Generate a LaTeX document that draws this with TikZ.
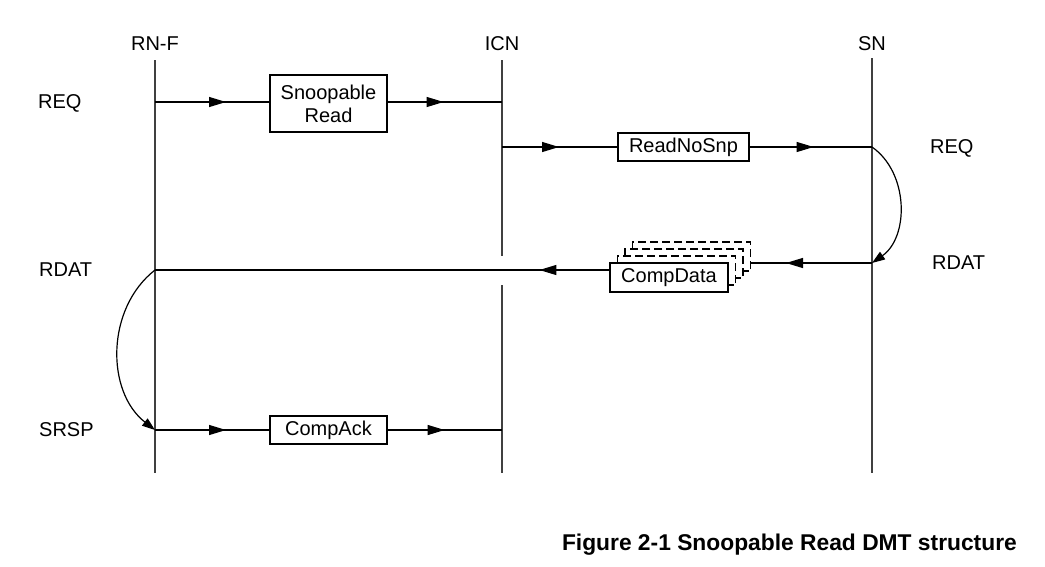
\documentclass[tikz,border=0pt]{standalone}
\usepackage{fontspec}
\setmainfont{Liberation Sans}
\usetikzlibrary{arrows.meta,decorations.markings}
\tikzset{
  life/.style={line width=1.3pt,draw=black!75},
  msg/.style={line width=1.2pt},
  mbox/.style={draw,line width=1.2pt,fill=white,inner sep=0pt,align=center,font=\fontsize{20}{23}\selectfont},
  dbox/.style={mbox,dashed,dash pattern=on 8pt off 4pt,minimum width=118pt,minimum height=29pt},
  lbl/.style={font=\fontsize{20}{24}\selectfont,inner sep=0pt},
  marr/.style={decoration={markings,mark=at position #1 with {\arrow{Triangle[length=17pt,width=10pt]}}},postaction={decorate}},
  curv/.style={line width=1.2pt,-{Triangle[length=13pt,width=9pt]}}
}
\begin{document}
\begin{tikzpicture}[x=1pt,y=-1pt]
\useasboundingbox (0,0) rectangle (1045,566);
% lifeline titles
\node[lbl] (trn) at (155,44) {RN-F};
\node[lbl] (ticn) at (502,44) {ICN};
\node[lbl] (tsn) at (872,44) {SN};
% lifelines
\coordinate (rnTop) at (155,60);
\coordinate (rnBot) at (155,473);
\coordinate (icnTop) at (502,60);
\coordinate (icnGapA) at (502,256);
\coordinate (icnGapB) at (502,285);
\coordinate (icnBot) at (502,473);
\coordinate (snTop) at (872,58);
\coordinate (snBot) at (872,473);
\draw[life] (rnTop) -- (rnBot);
\draw[life] (icnTop) -- (icnGapA);
\draw[life] (icnGapB) -- (icnBot);
\draw[life] (snTop) -- (snBot);
% side labels
\node[lbl,anchor=west] (lreq) at (38,103) {REQ};
\node[lbl,anchor=west] (lrdat) at (39,270) {RDAT};
\node[lbl,anchor=west] (lsrsp) at (39,430) {SRSP};
\node[lbl,anchor=west] (rreq) at (930,148) {REQ};
\node[lbl,anchor=west] (rrdat) at (932,263) {RDAT};
% message points
\coordinate (rnReq) at (155,102);
\coordinate (icnReq) at (502,102);
\coordinate (icnOut) at (502,147);
\coordinate (snReq) at (872,147);
\coordinate (snRdat) at (872,263);
\coordinate (rnRdat) at (155,270);
\coordinate (rnSrsp) at (155,430);
\coordinate (icnSrsp) at (502,430);
% boxes
\node[mbox,minimum width=117pt,minimum height=57pt] (snoop) at (328.5,103.5) {Snoopable\\Read};
\node[mbox,minimum width=131pt,minimum height=28pt] (rns) at (683.5,147) {ReadNoSnp};
\node[mbox,minimum width=117pt,minimum height=28pt] (cack) at (328.5,430) {CompAck};
\node[dbox] (cd4) at (691.5,256.5) {};
\node[dbox] (cd3) at (684,263.5) {};
\node[dbox] (cd2) at (676.5,270.5) {};
\node[mbox,minimum width=118pt,minimum height=29pt] (cd) at (669,277.5) {CompData};
% messages
\draw[msg,marr=71pt] (rnReq) -- (snoop.west |- rnReq);
\draw[msg,marr=56pt] (snoop.east |- icnReq) -- (icnReq);
\draw[msg,marr=57pt] (icnOut) -- (rns.west);
\draw[msg,marr=64pt] (rns.east) -- (snReq);
\draw[curv] (snReq) to[bend left=55] (snRdat);
\draw[msg,marr=86pt] (snRdat) -- (snRdat -| cd4.east);
\draw[msg,marr=70pt] (rnRdat -| cd.west) -- (rnRdat);
\draw[curv] (rnRdat) to[bend right=52] (rnSrsp);
\draw[msg,marr=71pt] (rnSrsp) -- (cack.west);
\draw[msg,marr=57pt] (cack.east) -- (icnSrsp);
% caption
\node[font=\bfseries\fontsize{22.8}{27}\selectfont,anchor=east,inner sep=0pt] (cap) at (1017,545) {Figure 2-1 Snoopable Read DMT structure};
\end{tikzpicture}
\end{document}
